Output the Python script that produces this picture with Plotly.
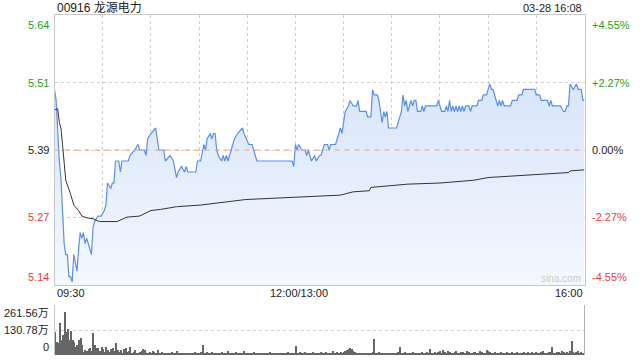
import plotly.graph_objects as go

# ---------------- data ----------------
title = "00916 龙源电力"
stamp = "03-28 16:08"
prev_close = 5.39
pct_ticks = [4.55, 2.27, 0.0, -2.27, -4.55]

# trading minute index (0 = 09:30, 150 = 12:00/13:00, 330 = 16:00)
price_minute = [0, 1, 3, 4, 6, 7, 8, 9, 10, 11, 12, 14, 15, 16, 17, 18, 19, 20, 22, 23,
                24, 25, 27, 29, 31, 32, 33, 35, 36, 37, 38, 40, 41, 42, 46, 47, 50, 52, 53, 56,
                57, 58, 60, 63, 65, 68, 69, 72, 74, 76, 77, 79, 81, 82, 83, 88, 89, 91, 93, 94,
                95, 97, 98, 99, 100, 101, 102, 104, 105, 106, 107, 108, 109, 110, 112, 114, 117, 118, 121, 123,
                124, 126, 148, 149, 150, 151, 152, 154, 156, 157, 158, 159, 160, 162, 163, 165, 166, 168, 170, 171,
                172, 175, 176, 177, 178, 179, 180, 181, 183, 184, 186, 188, 189, 190, 194, 195, 197, 198, 199, 201,
                202, 203, 204, 205, 206, 207, 208, 213, 215, 216, 217, 218, 219, 220, 221, 222, 223, 224, 225, 226,
                228, 229, 230, 231, 238, 239, 240, 241, 243, 244, 245, 246, 247, 248, 249, 250, 251, 252, 253, 254,
                255, 256, 258, 259, 260, 263, 264, 266, 267, 269, 270, 271, 272, 273, 274, 275, 276, 277, 278, 279,
                280, 284, 285, 288, 289, 291, 292, 299, 300, 302, 303, 307, 308, 309, 310, 315, 317, 318, 319, 320,
                321, 323, 325, 326, 328, 329, 330]
price = [5.50, 5.48, 5.37, 5.34, 5.22, 5.20, 5.20, 5.16, 5.16, 5.15, 5.20, 5.17, 5.21, 5.24, 5.23, 5.24, 5.22, 5.23, 5.21, 5.20,
         5.25, 5.26, 5.27, 5.27, 5.28, 5.29, 5.33, 5.32, 5.33, 5.33, 5.37, 5.37, 5.35, 5.37, 5.37, 5.38, 5.39, 5.40, 5.39, 5.39,
         5.38, 5.41, 5.42, 5.43, 5.39, 5.39, 5.37, 5.38, 5.37, 5.34, 5.35, 5.36, 5.35, 5.36, 5.35, 5.35, 5.37, 5.37, 5.40, 5.39,
         5.41, 5.42, 5.41, 5.42, 5.42, 5.39, 5.38, 5.37, 5.38, 5.37, 5.38, 5.37, 5.38, 5.39, 5.41, 5.42, 5.43, 5.42, 5.40, 5.40,
         5.39, 5.37, 5.37, 5.36, 5.40, 5.39, 5.40, 5.39, 5.39, 5.38, 5.39, 5.38, 5.37, 5.38, 5.37, 5.38, 5.38, 5.40, 5.40, 5.39,
         5.40, 5.40, 5.41, 5.42, 5.43, 5.42, 5.44, 5.46, 5.47, 5.48, 5.47, 5.47, 5.48, 5.46, 5.46, 5.45, 5.45, 5.50, 5.49, 5.49,
         5.48, 5.46, 5.44, 5.46, 5.45, 5.46, 5.43, 5.43, 5.45, 5.46, 5.49, 5.47, 5.48, 5.46, 5.47, 5.48, 5.47, 5.48, 5.48, 5.46,
         5.46, 5.47, 5.46, 5.47, 5.47, 5.48, 5.47, 5.46, 5.46, 5.47, 5.46, 5.48, 5.46, 5.47, 5.46, 5.47, 5.46, 5.47, 5.46, 5.47,
         5.46, 5.47, 5.47, 5.46, 5.47, 5.47, 5.48, 5.48, 5.49, 5.49, 5.50, 5.51, 5.50, 5.50, 5.49, 5.48, 5.47, 5.48, 5.47, 5.48,
         5.47, 5.47, 5.48, 5.48, 5.49, 5.49, 5.50, 5.50, 5.49, 5.49, 5.48, 5.48, 5.47, 5.48, 5.47, 5.47, 5.46, 5.46, 5.47, 5.47,
         5.51, 5.50, 5.51, 5.50, 5.50, 5.48, 5.48]

avg_minute = [0, 2, 3, 4, 5, 6, 7, 10, 12, 15, 17, 20, 24, 28, 32, 39, 45, 53, 60, 66,
              76, 90, 91, 119, 150, 178, 186, 196, 197, 210, 220, 240, 261, 270, 300, 320, 321, 330]
avg_price = [5.463, 5.465, 5.44, 5.43, 5.40, 5.37, 5.335, 5.31, 5.29, 5.28, 5.27, 5.267, 5.265, 5.26, 5.26, 5.26, 5.268, 5.27, 5.28, 5.282,
             5.287, 5.29, 5.29, 5.30, 5.304, 5.308, 5.314, 5.316, 5.322, 5.325, 5.328, 5.33, 5.335, 5.34, 5.345, 5.349, 5.352, 5.354]

# volume per minute, in 万 shares (index = trading minute, last = closing auction)
volume = [122, 70, 61, 169, 78, 105, 226, 122, 134, 78,
          127, 78, 70, 43, 52, 78, 87, 52, 17, 26,
          22, 30, 35, 20, 113, 52, 35, 38, 22, 43,
          30, 17, 43, 26, 17, 30, 35, 22, 61, 26,
          17, 26, 12, 30, 35, 17, 20, 40, 12, 17,
          26, 12, 8, 17, 22, 30, 26, 12, 8, 17,
          12, 22, 17, 9, 26, 8, 12, 17, 9, 12,
          8, 13, 9, 17, 12, 8, 20, 9, 6, 12,
          8, 10, 6, 9, 12, 8, 6, 14, 9, 12,
          8, 17, 52, 12, 9, 14, 8, 12, 17, 9,
          8, 12, 6, 9, 14, 8, 12, 9, 22, 6,
          8, 12, 9, 14, 6, 12, 9, 8, 22, 12,
          9, 6, 12, 8, 14, 9, 6, 8, 12, 6,
          9, 12, 6, 8, 14, 9, 6, 12, 8, 9,
          6, 12, 9, 8, 6, 14, 9, 6, 8, 12,
          47, 12, 9, 14, 8, 12, 17, 9, 8, 12,
          9, 14, 8, 6, 12, 9, 17, 12, 8, 14,
          9, 12, 8, 20, 12, 9, 14, 8, 17, 12,
          14, 22, 26, 30, 35, 30, 22, 17, 9, 12,
          8, 9, 6, 12, 8, 9, 6, 12, 17, 82,
          12, 9, 14, 8, 12, 6, 9, 8, 12, 9,
          6, 12, 9, 8, 17, 40, 12, 9, 14, 8,
          9, 12, 8, 14, 9, 6, 12, 8, 9, 17,
          9, 12, 14, 8, 30, 12, 9, 17, 12, 14,
          22, 12, 26, 17, 9, 20, 14, 9, 12, 17,
          22, 12, 9, 14, 17, 9, 12, 22, 14, 9,
          12, 17, 14, 9, 12, 22, 14, 9, 12, 26,
          22, 14, 9, 12, 17, 9, 12, 8, 14, 9,
          12, 9, 17, 12, 8, 14, 9, 12, 17, 9,
          12, 8, 14, 9, 12, 17, 9, 14, 12, 9,
          17, 12, 9, 14, 20, 12, 9, 12, 17, 14,
          40, 12, 9, 14, 17, 9, 20, 14, 12, 17,
          9, 22, 73, 17, 9, 14, 22, 12, 17, 9,
          261.56]
vol_ticks = [0, 130.78, 261.56]
vol_tick_labels = ["0", "130.78万", "261.56万"]
x_tick_minutes = [0, 150, 330]
x_tick_labels = ["09:30", "12:00/13:00", "16:00"]

# ---------------- figure ----------------
W, H = 640, 360
FONT = "Liberation Sans, Arial, Noto Sans CJK SC, sans-serif"
GREEN, RED, DARK = "#1f9f1f", "#f03b3b", "#222222"
GRID = "#cfcfcf"

ylo = prev_close * (1 + pct_ticks[-1] / 100)
yhi = prev_close * (1 + pct_ticks[0] / 100)
grid_prices = [prev_close * (1 + p / 100) for p in pct_ticks]

def px_x(px):
    return px / W

def px_y(py):
    return (H - py) / H

xdom = [px_x(54.5), px_x(584.5)]
main_dom = [px_y(285), px_y(15)]
vol_dom = [px_y(355), px_y(305)]

fig = go.Figure()
fig.add_trace(go.Scatter(
    x=price_minute, y=price, mode="lines",
    line=dict(color="#5a8ef0", width=1.2),
    fill="tozeroy",
    fillgradient=dict(type="vertical",
                      colorscale=[[0, "rgb(244,248,254)"], [1, "rgb(216,229,250)"]],
                      start=ylo, stop=5.51),
    hoverinfo="skip", xaxis="x", yaxis="y"))
fig.add_trace(go.Scatter(
    x=avg_minute, y=avg_price, mode="lines",
    line=dict(color="#333333", width=1),
    hoverinfo="skip", xaxis="x", yaxis="y"))
fig.add_trace(go.Bar(
    x=list(range(len(volume))), y=volume,
    marker=dict(color="#666666", line=dict(width=0)), width=0.65,
    hoverinfo="skip", xaxis="x2", yaxis="y2"))

fig.add_shape(type="line", xref="x", yref="y", x0=0, x1=330, y0=prev_close, y1=prev_close,
              line=dict(color="#f0a070", width=1, dash="5px,5px"))

ann = []
for p, gp in zip(pct_ticks, grid_prices):
    col = GREEN if p > 0 else (RED if p < 0 else DARK)
    if p == pct_ticks[0]:
        ya, ys = "top", -2
    elif p == pct_ticks[-1]:
        ya, ys = "bottom", 0
    else:
        ya, ys = "middle", 0
    ann.append(dict(x=px_x(51), xref="paper", y=gp, yref="y", text=f"{gp:.2f}",
                    xanchor="right", yanchor=ya, yshift=ys, showarrow=False,
                    font=dict(size=11, color=col)))
    ptxt = f"{p:+.2f}%" if p != 0 else "0.00%"
    ann.append(dict(x=px_x(590), xref="paper", y=gp, yref="y", text=ptxt,
                    xanchor="left", yanchor=ya, yshift=ys, showarrow=False,
                    font=dict(size=11, color=col)))

for v, t in zip(vol_ticks, vol_tick_labels):
    ya = "bottom" if v == vol_ticks[0] else ("top" if v == vol_ticks[-1] else "middle")
    ann.append(dict(x=px_x(51), xref="paper", y=v, yref="y2", text=t,
                    xanchor="right", yanchor=ya, showarrow=False,
                    font=dict(size=11, color=DARK)))

for m, t in zip(x_tick_minutes, x_tick_labels):
    xa = "left" if m == x_tick_minutes[0] else ("right" if m == x_tick_minutes[-1] else "center")
    ann.append(dict(x=m, xref="x", y=px_y(293), yref="paper", text=t,
                    xanchor=xa, yanchor="middle", xshift=4 if xa == "center" else 0,
                    showarrow=False, font=dict(size=11, color=DARK)))

ann.append(dict(x=px_x(55), xref="paper", y=px_y(7.5), yref="paper", text=title,
                xanchor="left", yanchor="middle", showarrow=False,
                font=dict(size=12, color=DARK)))
ann.append(dict(x=px_x(584), xref="paper", y=px_y(7.5), yref="paper", text=stamp,
                xanchor="right", yanchor="middle", showarrow=False,
                font=dict(size=11, color=DARK)))
ann.append(dict(x=px_x(583), xref="paper", y=px_y(278), yref="paper", text="sina.com",
                xanchor="right", yanchor="middle", showarrow=False,
                font=dict(size=10, color="#cccccc")))

axis_common = dict(showticklabels=False, zeroline=False, fixedrange=True, ticks="")
fig.update_layout(
    width=W, height=H, margin=dict(l=0, r=0, t=0, b=0),
    paper_bgcolor="white", plot_bgcolor="white",
    showlegend=False, font=dict(family=FONT, size=11, color=DARK),
    bargap=0,
    xaxis=dict(domain=xdom, range=[0, 330], anchor="y", tick0=0, dtick=30,
               showgrid=True, gridcolor=GRID, griddash="dot", gridwidth=1,
               showline=True, linecolor="#c8c8c8", linewidth=1, mirror=True, **axis_common),
    yaxis=dict(domain=main_dom, range=[ylo, yhi], anchor="x", tickvals=grid_prices,
               showgrid=True, gridcolor=GRID, griddash="dot", gridwidth=1,
               showline=True, linecolor="#c8c8c8", linewidth=1, mirror=True, **axis_common),
    xaxis2=dict(domain=xdom, range=[0, 330.3], anchor="y2", showgrid=False,
                showline=False, **axis_common),
    yaxis2=dict(domain=vol_dom, range=[0, vol_ticks[-1]], anchor="x2", tickvals=vol_ticks[1:],
                showgrid=True, gridcolor=GRID, griddash="dot", gridwidth=1,
                showline=True, linecolor="#c8c8c8", linewidth=1, **axis_common),
    annotations=ann,
)

fig.write_html("out.html")
